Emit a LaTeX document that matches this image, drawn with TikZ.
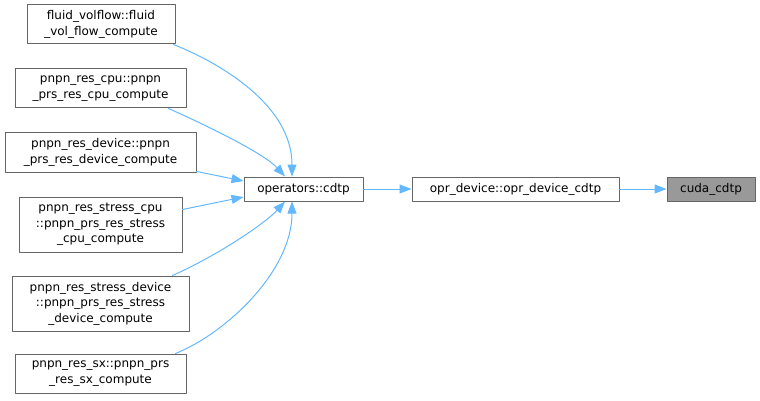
\documentclass[tikz,border=0pt]{standalone}
\usepackage{fontspec}
\setmainfont{DejaVu Sans}
\usetikzlibrary{arrows.meta,calc,positioning}
\definecolor{boxgray}{HTML}{666666}
\definecolor{hilite}{HTML}{999999}
\definecolor{edgeblue}{HTML}{63B8FF}
\tikzset{
  every node/.style={font=\fontsize{12}{15.5}\selectfont},
  fnbox/.style={draw=boxgray, fill=white, line width=1pt, align=center,
    inner sep=0pt, minimum height=24pt},
  cur box/.style={fnbox, fill=hilite},
  call/.style={draw=edgeblue, line width=1pt,
    -{Triangle[length=12pt, width=9pt]}}
}
\begin{document}
\begin{tikzpicture}[x=1pt, y=-1pt, line cap=round, line join=round]
  \useasboundingbox (0,0) rectangle (760,401);

  % callers
  \node[fnbox, minimum width=148pt, minimum height=39pt] (fluid)
    at (101,24.5) {fluid\_volflow::fluid\\\_vol\_flow\_compute};
  \node[fnbox, minimum width=171pt, minimum height=39pt] (rescpu)
    at (100.5,88.5) {pnpn\_res\_cpu::pnpn\\\_prs\_res\_cpu\_compute};
  \node[fnbox, minimum width=191pt, minimum height=39pt] (resdev)
    at (100.5,152.5) {pnpn\_res\_device::pnpn\\\_prs\_res\_device\_compute};
  \node[fnbox, minimum width=163pt, minimum height=55pt] (stresscpu)
    at (100.5,224.5) {pnpn\_res\_stress\_cpu\\::pnpn\_prs\_res\_stress\\\_cpu\_compute};
  \node[fnbox, minimum width=177pt, minimum height=55pt] (stressdev)
    at (100.5,303.5) {pnpn\_res\_stress\_device\\::pnpn\_prs\_res\_stress\\\_device\_compute};
  \node[fnbox, minimum width=171pt, minimum height=39pt] (ressx)
    at (100.5,373.5) {pnpn\_res\_sx::pnpn\_prs\\\_res\_sx\_compute};

  % chain
  \node[fnbox, minimum width=119pt] (cdtp) at (303.5,189) {operators::cdtp};
  \node[fnbox, minimum width=207pt] (oprdev) at (515.5,189)
    {opr\_device::opr\_device\_cdtp};
  \node[cur box, minimum width=88pt] (cuda) at (711,189) {cuda\_cdtp};

  % calls
  \draw[call] ([xshift=-2pt]fluid.south east) .. controls +(50,20) and +(0,-70)
    .. ([xshift=-11.5pt]cdtp.north);
  \draw[call] ([xshift=-18pt]rescpu.south east) .. controls +(45,20) and +(-20,-22)
    .. ([xshift=-18.5pt]cdtp.north);
  \draw[call] ([yshift=1pt]resdev.south east) -- ([yshift=8pt]cdtp.west);
  \draw[call] ([yshift=15pt]stresscpu.east) -- ([yshift=-8pt]cdtp.west);
  \draw[call] ([xshift=-17pt]stressdev.north east) .. controls +(45,-20) and +(-20,22)
    .. ([xshift=-18.5pt]cdtp.south);
  \draw[call] ([xshift=-11pt]ressx.north east) .. controls +(50,-20) and +(0,70)
    .. ([xshift=-11.5pt]cdtp.south);
  \draw[call] (cdtp) -- (oprdev);
  \draw[call] (oprdev) -- (cuda);
\end{tikzpicture}
\end{document}
